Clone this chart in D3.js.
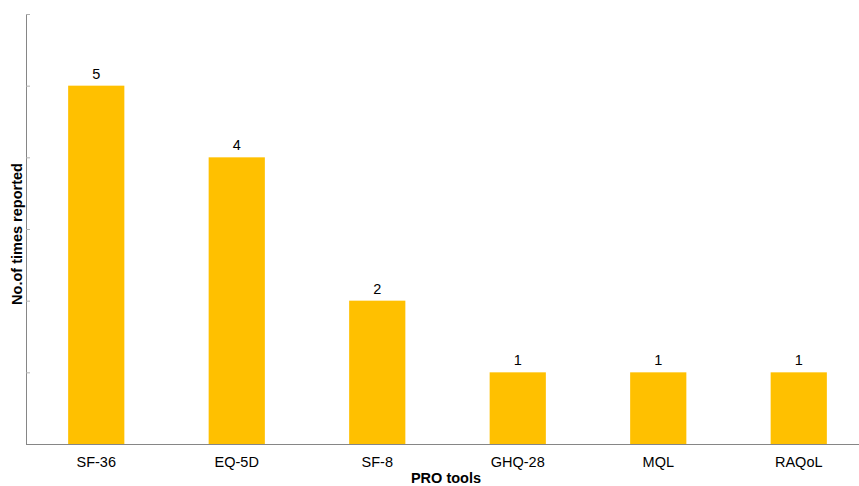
<!DOCTYPE html>
<html>
<head>
<meta charset="utf-8">
<script src="https://cdn.jsdelivr.net/npm/d3@7"></script>
<style>
  html, body { margin: 0; padding: 0; background: #fff; }
  svg { display: block; font-family: "Liberation Sans", Arial, sans-serif; }
</style>
</head>
<body>
<svg id="chart" width="859" height="486"></svg>
<script>
// PRO tool usage counts
const categories = ["SF-36", "EQ-5D", "SF-8", "GHQ-28", "MQL", "RAQoL"];
const counts = [5, 4, 2, 1, 1, 1];
const yTicks = [0, 1, 2, 3, 4, 5, 6];

const svg = d3.select("#chart");
const plotLeft = 26, plotRight = 869, plotTop = 14, plotBottom = 444;
const fontSize = 14.5;

const x = d3.scaleBand().domain(categories).range([plotLeft, plotRight]).paddingInner(0.6).paddingOuter(0.3);
const y = d3.scaleLinear().domain([0, 6]).range([plotBottom, plotTop]);

const axisColor = "#868686";

// y axis: line with short inward ticks, no labels
const yAxis = svg.append("g").attr("transform", `translate(${plotLeft},0)`)
  .call(d3.axisRight(y).tickValues(yTicks).tickSize(4).tickFormat(""));
yAxis.select(".domain").attr("stroke", axisColor).attr("d", `M0.5,${plotTop}V${plotBottom}`);
yAxis.selectAll(".tick line").attr("stroke", "#b0b0b0");

// bars
svg.append("g").selectAll("rect").data(categories).join("rect")
  .attr("x", d => x(d))
  .attr("y", (d, i) => y(counts[i]))
  .attr("width", x.bandwidth())
  .attr("height", (d, i) => y(0) - y(counts[i]))
  .attr("fill", "#FFC000");

// value labels
svg.append("g").selectAll("text").data(categories).join("text")
  .attr("x", d => x(d) + x.bandwidth() / 2)
  .attr("y", (d, i) => y(counts[i]) - 7)
  .attr("text-anchor", "middle")
  .attr("font-size", fontSize)
  .attr("fill", "#000")
  .text((d, i) => counts[i]);

// x axis
const xAxis = svg.append("g").attr("transform", `translate(0,${plotBottom})`)
  .call(d3.axisBottom(x).tickSize(0).tickPadding(12.5));
xAxis.select(".domain").attr("stroke", axisColor).attr("d", `M${plotLeft},0.5H${plotRight}`);
xAxis.selectAll("text").attr("font-size", fontSize).attr("fill", "#000")
  .attr("font-family", "Liberation Sans, Arial, sans-serif");

// axis titles
svg.append("text")
  .attr("x", 446).attr("y", 483)
  .attr("text-anchor", "middle")
  .attr("font-size", fontSize).attr("font-weight", "bold")
  .text("PRO tools");

svg.append("text")
  .attr("transform", "translate(22,234) rotate(-90)")
  .attr("text-anchor", "middle")
  .attr("font-size", fontSize).attr("font-weight", "bold")
  .text("No.of times reported");
</script>
</body>
</html>
